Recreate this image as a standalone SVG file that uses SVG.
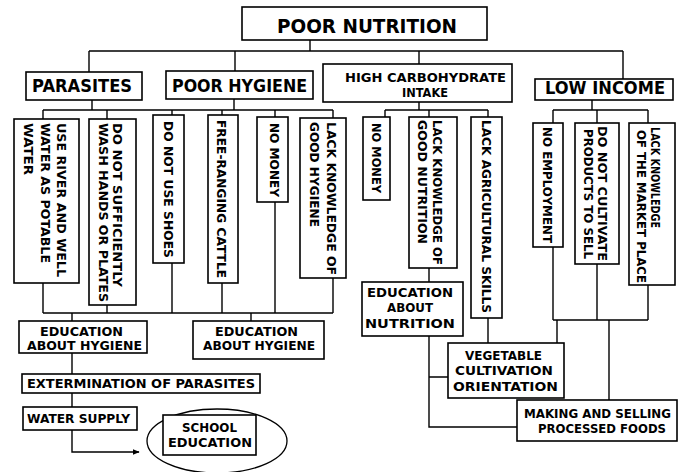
<svg xmlns="http://www.w3.org/2000/svg" width="680" height="472" viewBox="0 0 680 472">
<style>
  .box { fill: #fff; stroke: #000; stroke-width: 1.6; }
  .ln { fill: none; stroke: #000; stroke-width: 1.4; }
  text { font-family: "DejaVu Sans", "Liberation Sans", sans-serif; font-weight: bold; fill: #000; }
  .v { font-size: 13px; }
  .h { font-size: 12.3px; }
  .big { font-size: 18px; }
</style>
<defs>
  <marker id="arr" viewBox="0 0 10 10" refX="9" refY="5" markerWidth="7" markerHeight="7" orient="auto" markerUnits="userSpaceOnUse">
    <path d="M0,1 L10,5 L0,9 Z" fill="#000"/>
  </marker>
</defs>
<rect width="680" height="472" fill="#fff"/>

<g id="connectors" class="ln">
  <path d="M310,40 V51 M89,51 H623 M89,51 V72 M235,51 V71 M419,51 V64 M623,51 V79"/>
  <path d="M92,100 V110 M234,99 V110 M43,110 H333 M43,110 V119 M107,110 V119 M172,110 V115 M222,110 V115 M275,110 V117 M333,110 V118"/>
  <path d="M419,102 V110 M385,110 H488 M385,110 V117 M429,110 V117 M488,110 V117"/>
  <path d="M592,100 V110 M553,110 H648 M553,110 V123 M597,110 V123 M648,110 V123"/>
  <path d="M43,283 V313 M107,305 V313 M172,263 V313 M222,283 V313 M275,202 V313 M333,278 V313 M43,313 H333 M72,313 V321 M251,313 V321"/>
  <path d="M72,353 V374 M72,393 V407"/>
  <path d="M72,430 V452 H139" marker-end="url(#arr)"/>
  <path d="M429,268 V282 M429,336 V427 H517 M429,377 H448 M488,318 V343"/>
  <path d="M553,247 V320 M597,264 V320 M648,285 V320 M553,320 H648 M557,320 V343 M609,320 V400"/>
</g>

<g id="poor-nutrition">
  <rect class="box" x="242" y="7" width="245" height="33"/>
  <text x="277" y="33" font-size="20" textLength="180" lengthAdjust="spacingAndGlyphs">POOR NUTRITION</text>
</g>
<g id="parasites">
  <rect class="box" x="26" y="72" width="116" height="28"/>
  <text class="big" x="32" y="92" textLength="100" lengthAdjust="spacingAndGlyphs">PARASITES</text>
</g>
<g id="poor-hygiene">
  <rect class="box" x="166" y="71" width="147" height="28"/>
  <text class="big" x="172" y="92" textLength="135" lengthAdjust="spacingAndGlyphs">POOR HYGIENE</text>
</g>
<g id="high-carb">
  <rect class="box" x="323" y="64" width="189" height="38"/>
  <text x="345" y="82" font-size="13" textLength="161" lengthAdjust="spacingAndGlyphs">HIGH CARBOHYDRATE</text>
  <text x="402" y="97" font-size="13" textLength="46" lengthAdjust="spacingAndGlyphs">INTAKE</text>
</g>
<g id="low-income">
  <rect class="box" x="535" y="79" width="138" height="21"/>
  <text x="545" y="94" font-size="17" textLength="120" lengthAdjust="spacingAndGlyphs">LOW INCOME</text>
</g>

<g id="use-river">
  <rect class="box" x="14" y="119" width="65" height="164"/>
  <text class="v" transform="translate(57.3,123) rotate(90)" textLength="154" lengthAdjust="spacingAndGlyphs">USE RIVER AND WELL</text>
  <text class="v" transform="translate(41.3,123) rotate(90)" textLength="140" lengthAdjust="spacingAndGlyphs">WATER AS POTABLE</text>
  <text class="v" transform="translate(24.3,123) rotate(90)" textLength="52" lengthAdjust="spacingAndGlyphs">WATER</text>
</g>
<g id="wash-hands">
  <rect class="box" x="89" y="119" width="47" height="186"/>
  <text class="v" transform="translate(113.3,123) rotate(90)" textLength="164" lengthAdjust="spacingAndGlyphs">DO NOT SUFFICIENTLY</text>
  <text class="v" transform="translate(99,123) rotate(90)" textLength="179" lengthAdjust="spacingAndGlyphs">WASH HANDS OR PLATES</text>
</g>
<g id="no-shoes">
  <rect class="box" x="153" y="115" width="31" height="148"/>
  <text class="v" transform="translate(164.3,121) rotate(90)" textLength="137" lengthAdjust="spacingAndGlyphs">DO NOT USE SHOES</text>
</g>
<g id="free-ranging">
  <rect class="box" x="208" y="115" width="30" height="168"/>
  <text class="v" transform="translate(217.3,120) rotate(90)" textLength="158" lengthAdjust="spacingAndGlyphs">FREE-RANGING CATTLE</text>
</g>
<g id="no-money-1">
  <rect class="box" x="257" y="117" width="31" height="85"/>
  <text class="v" transform="translate(270.3,123) rotate(90)" textLength="74" lengthAdjust="spacingAndGlyphs">NO MONEY</text>
</g>
<g id="lack-hygiene">
  <rect class="box" x="300" y="118" width="46" height="160"/>
  <text class="v" transform="translate(327.3,122) rotate(90)" textLength="153" lengthAdjust="spacingAndGlyphs">LACK KNOWLEDGE OF</text>
  <text class="v" transform="translate(309.5,122) rotate(90)" textLength="105" lengthAdjust="spacingAndGlyphs">GOOD HYGIENE</text>
</g>
<g id="no-money-2">
  <rect class="box" x="363" y="117" width="27" height="83"/>
  <text class="v" transform="translate(372,123) rotate(90)" textLength="70" lengthAdjust="spacingAndGlyphs">NO MONEY</text>
</g>
<g id="lack-nutrition">
  <rect class="box" x="409" y="117" width="48" height="151"/>
  <text class="v" transform="translate(433.3,120) rotate(90)" textLength="145" lengthAdjust="spacingAndGlyphs">LACK KNOWLEDGE OF</text>
  <text class="v" transform="translate(418.3,120) rotate(90)" textLength="124" lengthAdjust="spacingAndGlyphs">GOOD NUTRITION</text>
</g>
<g id="lack-agri">
  <rect class="box" x="471" y="117" width="31" height="201"/>
  <text class="v" transform="translate(482.3,120) rotate(90)" textLength="193" lengthAdjust="spacingAndGlyphs">LACK AGRICULTURAL SKILLS</text>
</g>
<g id="no-employment">
  <rect class="box" x="533" y="123" width="30" height="124"/>
  <text class="v" transform="translate(543.3,127) rotate(90)" textLength="116" lengthAdjust="spacingAndGlyphs">NO EMPLOYMENT</text>
</g>
<g id="not-cultivate">
  <rect class="box" x="575" y="123" width="44" height="141"/>
  <text class="v" transform="translate(598.3,126) rotate(90)" textLength="135" lengthAdjust="spacingAndGlyphs">DO NOT CULTIVATE</text>
  <text class="v" transform="translate(584,129) rotate(90)" textLength="130" lengthAdjust="spacingAndGlyphs">PRODUCTS TO SELL</text>
</g>
<g id="lack-market">
  <rect class="box" x="629" y="123" width="46" height="162"/>
  <text class="v" transform="translate(651.3,127) rotate(90)" textLength="101" lengthAdjust="spacingAndGlyphs">LACK KNOWLEDGE</text>
  <text class="v" transform="translate(636.5,130) rotate(90)" textLength="153" lengthAdjust="spacingAndGlyphs">OF THE MARKET PLACE</text>
</g>

<g id="edu-hygiene-1">
  <rect class="box" x="19" y="321" width="128" height="32"/>
  <text class="h" x="40" y="335.5" textLength="83" lengthAdjust="spacingAndGlyphs">EDUCATION</text>
  <text class="h" x="27" y="350" textLength="115" lengthAdjust="spacingAndGlyphs">ABOUT HYGIENE</text>
</g>
<g id="edu-hygiene-2">
  <rect class="box" x="193" y="321" width="131" height="38"/>
  <text class="h" x="215" y="335.5" textLength="83" lengthAdjust="spacingAndGlyphs">EDUCATION</text>
  <text class="h" x="203" y="350" textLength="112" lengthAdjust="spacingAndGlyphs">ABOUT HYGIENE</text>
</g>
<g id="extermination">
  <rect class="box" x="22" y="374" width="238" height="19"/>
  <text class="h" x="27" y="388" textLength="228" lengthAdjust="spacingAndGlyphs">EXTERMINATION OF PARASITES</text>
</g>
<g id="water-supply">
  <rect class="box" x="23" y="407" width="114" height="23"/>
  <text class="h" x="27" y="423" textLength="103" lengthAdjust="spacingAndGlyphs">WATER SUPPLY</text>
</g>
<g id="school-education">
  <ellipse cx="217" cy="441" rx="70" ry="32" fill="none" stroke="#000" stroke-width="1.3"/>
  <rect class="box" x="163" y="415" width="93" height="40"/>
  <text class="h" x="182" y="432" textLength="55" lengthAdjust="spacingAndGlyphs">SCHOOL</text>
  <text class="h" x="168" y="447" textLength="84" lengthAdjust="spacingAndGlyphs">EDUCATION</text>
</g>
<g id="edu-nutrition">
  <rect class="box" x="362" y="282" width="101" height="54"/>
  <text class="h" x="367" y="297" textLength="86" lengthAdjust="spacingAndGlyphs">EDUCATION</text>
  <text class="h" x="387" y="312" textLength="46" lengthAdjust="spacingAndGlyphs">ABOUT</text>
  <text class="h" x="365" y="328" textLength="90" lengthAdjust="spacingAndGlyphs">NUTRITION</text>
</g>
<g id="vegetable">
  <rect class="box" x="448" y="343" width="116" height="55"/>
  <text class="h" x="465" y="360" textLength="77" lengthAdjust="spacingAndGlyphs">VEGETABLE</text>
  <text class="h" x="455" y="375" textLength="98" lengthAdjust="spacingAndGlyphs">CULTIVATION</text>
  <text class="h" x="453" y="391" textLength="105" lengthAdjust="spacingAndGlyphs">ORIENTATION</text>
</g>
<g id="processed-foods">
  <rect class="box" x="517" y="400" width="160" height="41"/>
  <text class="h" x="524" y="418" textLength="147" lengthAdjust="spacingAndGlyphs">MAKING AND SELLING</text>
  <text class="h" x="538" y="433" textLength="128" lengthAdjust="spacingAndGlyphs">PROCESSED FOODS</text>
</g>
</svg>
